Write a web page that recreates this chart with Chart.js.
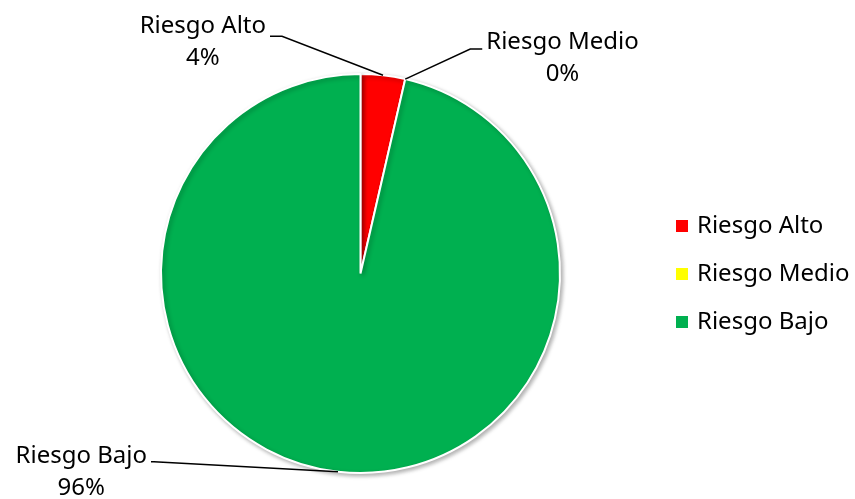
<!DOCTYPE html>
<html>
<head>
<meta charset="utf-8">
<script src="https://cdn.jsdelivr.net/npm/chart.js@4.4.1/dist/chart.umd.min.js"></script>
<style>
  html, body { margin: 0; padding: 0; background: #fff; }
  #wrap { width: 855px; height: 499px; position: relative; }
</style>
</head>
<body>
<div id="wrap"><canvas id="riskChart" width="855" height="499"></canvas></div>
<script>
// data
const categories = ["Riesgo Alto", "Riesgo Medio", "Riesgo Bajo"];
const shares = [3.6, 0, 96.4];
const percentLabels = ["4%", "0%", "96%"];
const sliceColors = ["#FF0000", "#FFFF00", "#00B050"];

const FONT = '24px "Noto Sans", Tahoma, sans-serif';

// where each data label sits, relative to its slice's outer mid point
const labelPlacement = [
  { elbowDx: -101, elbowDy: -39, side: "left", hook: 12, lift: 10 },
  { elbowDx: 65, elbowDy: -30, side: "right", hook: 12, lift: 7 },
  { elbowDx: -184, elbowDy: -10, side: "left", hook: 3, lift: 6 }
];

const leaderLabels = {
  id: "leaderLabels",
  afterDatasetsDraw(chart) {
    const ctx = chart.ctx;
    const arcs = chart.getDatasetMeta(0).data;
    ctx.save();
    ctx.font = FONT;
    ctx.fillStyle = "#000";
    ctx.strokeStyle = "#000";
    ctx.lineWidth = 1.5;
    arcs.forEach((arc, i) => {
      const p = labelPlacement[i];
      const mid = (arc.startAngle + arc.endAngle) / 2;
      const ax = arc.x + Math.cos(mid) * arc.outerRadius;
      const ay = arc.y + Math.sin(mid) * arc.outerRadius;
      const ex = ax + p.elbowDx;
      const ey = ay + p.elbowDy;
      const hx = p.side === "left" ? ex - p.hook : ex + p.hook;
      ctx.beginPath();
      ctx.moveTo(ax, ay);
      ctx.lineTo(ex, ey);
      ctx.lineTo(hx, ey);
      ctx.stroke();

      const w = ctx.measureText(categories[i]).width;
      const cx = p.side === "left" ? hx - 4 - w / 2 : hx + 4 + w / 2;
      const ty = ey - p.lift;
      ctx.textAlign = "center";
      ctx.textBaseline = "middle";
      ctx.fillText(categories[i], cx, ty);
      ctx.fillText(percentLabels[i], cx, ty + 32);
    });
    ctx.restore();
  }
};

const sideLegend = {
  id: "sideLegend",
  afterDraw(chart) {
    const ctx = chart.ctx;
    ctx.save();
    ctx.font = FONT;
    ctx.textAlign = "left";
    ctx.textBaseline = "middle";
    categories.forEach((name, i) => {
      const y = 226 + i * 48;
      ctx.fillStyle = sliceColors[i];
      ctx.fillRect(676, y - 6, 12, 12);
      ctx.fillStyle = "#000";
      ctx.fillText(name, 697, y);
    });
    ctx.restore();
  }
};

const pieShadow = {
  id: "pieShadow",
  beforeDatasetsDraw(chart) {
    const ctx = chart.ctx;
    ctx.save();
    ctx.shadowColor = "rgba(0,0,0,0.3)";
    ctx.shadowBlur = 4;
    ctx.shadowOffsetX = 2;
    ctx.shadowOffsetY = 2;
  },
  afterDatasetsDraw(chart) {
    chart.ctx.restore();
  }
};

new Chart(document.getElementById("riskChart"), {
  type: "pie",
  data: {
    labels: categories,
    datasets: [{
      data: shares,
      backgroundColor: sliceColors,
      borderColor: "#FFFFFF",
      borderWidth: 2
    }]
  },
  options: {
    responsive: false,
    animation: false,
    layout: { padding: { left: 160, right: 294, top: 73, bottom: 25 } },
    plugins: {
      legend: { display: false },
      tooltip: { enabled: false }
    }
  },
  plugins: [pieShadow, leaderLabels, sideLegend]
});
</script>
</body>
</html>
